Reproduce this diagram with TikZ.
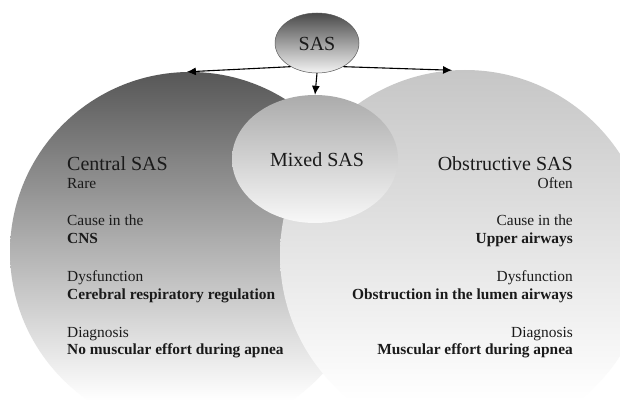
\documentclass[tikz,border=0pt]{standalone}
\usepackage{fontspec}
\setmainfont{Liberation Serif}
\usetikzlibrary{shapes.geometric,arrows.meta}
\definecolor{txtc}{HTML}{1A1A1A}
\definecolor{cenTop}{HTML}{575757}
\definecolor{obsTop}{HTML}{C6C6C6}
\definecolor{mixTop}{HTML}{ABABAB}
\definecolor{mixBot}{HTML}{F8F8F8}
\definecolor{sasTop}{HTML}{4A4A4A}
\definecolor{sasBot}{HTML}{F4F4F4}
\begin{document}
\begin{tikzpicture}[x=1pt,y=-1pt,
  bigtxt/.style={font=\fontsize{20}{24}\selectfont, inner sep=0pt, text=txtc},
  smalltxt/.style={font=\fontsize{15.4}{18}\selectfont, inner sep=0pt, text=txtc},
  boldtxt/.style={font=\fontsize{15.4}{18}\selectfont\bfseries, inner sep=0pt, text=txtc},
  arr/.style={-{Latex[length=9pt,width=8pt]}, line width=1.1pt, black},
  bigcircle/.style={circle, inner sep=0pt, minimum size=#1}]
\useasboundingbox (0,0) rectangle (620,401);
\clip (0,0) rectangle (620,401);
\fill[white] (0,0) rectangle (620,401);
% big circles (shaded, fading to white at the bottom of the picture)
\begin{scope}
  \clip (190,252) circle (180);
  \shade[top color=cenTop, bottom color=white] (0,72) rectangle (620,400);
  \fill[white] (0,399.5) rectangle (620,440);
\end{scope}
\begin{scope}
  \clip (465,255) circle (185);
  \shade[top color=obsTop, bottom color=white] (0,70) rectangle (620,400);
  \fill[white] (0,399.5) rectangle (620,440);
\end{scope}
\node[bigcircle=360pt] (central) at (190,252) {};
\node[bigcircle=370pt] (obstr) at (465,255) {};
% mixed ellipse
\node[ellipse, minimum width=166pt, minimum height=128pt, inner sep=0pt, top color=mixTop, bottom color=mixBot] (mixed) at (315,159) {};
\node[bigtxt] (mixedtxt) at (317,160) {Mixed SAS};
% SAS ellipse
\node[ellipse, minimum width=84pt, minimum height=60pt, inner sep=0pt, draw=black!65, line width=0.5pt, top color=sasTop, bottom color=sasBot] (sas) at (317,43) {};
\node[bigtxt] (sastxt) at (317,44) {SAS};
% arrows
\draw[arr] (sas.222) -- (central.91);
\draw[arr] (sas.-42) -- (obstr.94);
\draw[arr] (sas.south) -- (mixed.north);
% left texts
\node[bigtxt, anchor=base west] (c1) at (67,170) {Central SAS};
\node[smalltxt, anchor=base west] (c2) at (67,188) {Rare};
\node[smalltxt, anchor=base west] (c3) at (67,225) {Cause in the};
\node[boldtxt, anchor=base west] (c4) at (67,243) {CNS};
\node[smalltxt, anchor=base west] (c5) at (67,281) {Dysfunction};
\node[boldtxt, anchor=base west] (c6) at (67,299) {Cerebral respiratory regulation};
\node[smalltxt, anchor=base west] (c7) at (67,337) {Diagnosis};
\node[boldtxt, anchor=base west] (c8) at (67,354) {No muscular effort during apnea};
% right texts
\node[bigtxt, anchor=base east] (o1) at (573,170) {Obstructive SAS};
\node[smalltxt, anchor=base east] (o2) at (573,188) {Often};
\node[smalltxt, anchor=base east] (o3) at (573,225) {Cause in the};
\node[boldtxt, anchor=base east] (o4) at (573,243) {Upper airways};
\node[smalltxt, anchor=base east] (o5) at (573,281) {Dysfunction};
\node[boldtxt, anchor=base east] (o6) at (573,299) {Obstruction in the lumen airways};
\node[smalltxt, anchor=base east] (o7) at (573,337) {Diagnosis};
\node[boldtxt, anchor=base east] (o8) at (573,354) {Muscular effort during apnea};
\end{tikzpicture}
\end{document}
